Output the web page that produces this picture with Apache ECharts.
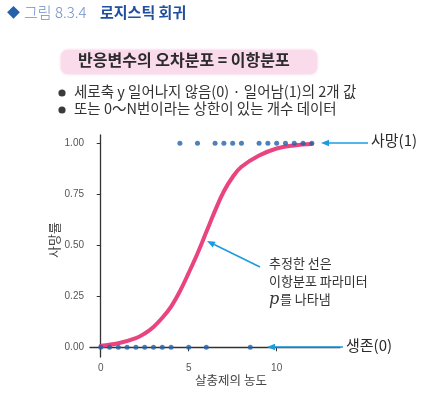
<!DOCTYPE html>
<html><head><meta charset="utf-8">
<script src="https://cdn.jsdelivr.net/npm/echarts@6/dist/echarts.min.js"></script>
<style>html,body{margin:0;padding:0;background:#fff}#c{width:434px;height:393px}</style>
</head><body><div id="c"></div>
<script>
// Data
const deadX = [4.5, 5.5, 6.5, 7, 7.5, 8, 9, 9.5, 10, 10.5, 11, 11.5, 12];   // y = 1
const aliveX = [0, 0.5, 1, 1.5, 2, 2.5, 3, 3.5, 4, 5, 6, 8.5];             // y = 0
const curveX = [0, 1, 2, 2.5, 3, 3.5, 4, 4.5, 5, 5.5, 6, 6.5, 7, 7.5, 8, 9, 10, 11, 12];
const curveY = [0.008, 0.02, 0.045, 0.068, 0.10, 0.145, 0.20, 0.275, 0.365, 0.46, 0.565, 0.67, 0.765, 0.835, 0.885, 0.94, 0.975, 0.99, 0.997];
const xTicks = [0, 5, 10];
const yTicks = [0, 0.25, 0.5, 0.75, 1];

const KR = '"Noto Sans CJK KR", "Noto Sans", sans-serif';
const blue = '#1b9ce0';
const dotColor = '#2260a8';
const pink = '#e9447f';

const chart = echarts.init(document.getElementById('c'), null, {renderer: 'canvas'});

function arrow(x1, y1, x2, y2) {
  const ang = Math.atan2(y2 - y1, x2 - x1);
  const L = 8, W = 3.2;
  const bx = x2 - L * Math.cos(ang), by = y2 - L * Math.sin(ang);
  const px = -Math.sin(ang) * W, py = Math.cos(ang) * W;
  return [
    {type: 'line', shape: {x1: x1, y1: y1, x2: bx, y2: by}, style: {stroke: blue, lineWidth: 1.6}, z: 10},
    {type: 'polygon', shape: {points: [[x2, y2], [bx + px, by + py], [bx - px, by - py]]}, style: {fill: blue}, z: 10}
  ];
}

const graphics = [
  {type: 'text', left: 7, top: 6, style: {text: '◆', font: '13px ' + KR, fill: '#2462ad'}},
  {type: 'text', left: 24, top: 5, style: {text: '그림 8.3.4', font: '300 15px ' + KR, fill: '#6b8ec6'}},
  {type: 'text', left: 100, top: 5, style: {text: '로지스틱 회귀', font: 'bold 15px ' + KR, fill: '#1f4f9e'}},
  {type: 'rect', shape: {x: 61, y: 50, width: 256, height: 24, r: 7}, style: {fill: '#f9dbeb', shadowBlur: 3, shadowColor: 'rgba(240,180,210,0.8)'}},
  {type: 'text', left: 78, top: 52, style: {text: '반응변수의 오차분포 = 이항분포', font: 'bold 16px ' + KR, fill: '#2b2b2b'}},
  {type: 'circle', shape: {cx: 62, cy: 93, r: 3.6}, style: {fill: '#3a3a3a'}},
  {type: 'circle', shape: {cx: 62, cy: 110, r: 3.6}, style: {fill: '#3a3a3a'}},
  {type: 'text', left: 74, top: 84, style: {text: '세로축 y 일어나지 않음(0) · 일어남(1)의 2개 값', font: '14.5px ' + KR, fill: '#333'}},
  {type: 'text', left: 74, top: 101, style: {text: '또는 0〜N번이라는 상한이 있는 개수 데이터', font: '14.5px ' + KR, fill: '#333'}},
  {type: 'text', left: 371, top: 133, style: {text: '사망(1)', font: '15px ' + KR, fill: '#2b2b2b'}},
  {type: 'text', left: 346, top: 338, style: {text: '생존(0)', font: '15px ' + KR, fill: '#2b2b2b'}},
  {type: 'text', left: 269, top: 257, style: {text: '추정한 선은', font: '13px ' + KR, fill: '#333'}},
  {type: 'text', left: 269, top: 275, style: {text: '이항분포 파라미터', font: '13px ' + KR, fill: '#333'}},
  {type: 'text', left: 269, top: 292, style: {text: 'p', font: 'italic 16px "DejaVu Serif", "Liberation Serif", serif', fill: '#333'}},
  {type: 'text', left: 280, top: 293, style: {text: '를 나타냄', font: '13px ' + KR, fill: '#333'}},
  {type: 'text', x: 54, y: 240, rotation: Math.PI / 2, style: {text: '사망률', font: '13px ' + KR, fill: '#444', align: 'center', verticalAlign: 'middle'}},
  {type: 'text', x: 231, y: 380, style: {text: '살충제의 농도', font: '12.5px ' + KR, fill: '#444', align: 'center', verticalAlign: 'middle'}}
].concat(arrow(368, 143, 321, 143), arrow(343, 347, 267, 347), arrow(260, 267, 207, 241));

chart.setOption({
  animation: false,
  backgroundColor: '#fff',
  grid: {left: 90, top: 135, width: 250, height: 222, containLabel: false},
  xAxis: {
    type: 'value', min: -0.61, max: 13.6,
    splitLine: {show: false},
    axisLine: {show: true, lineStyle: {color: '#333', width: 1.3}},
    axisTick: {show: true, length: 4, customValues: xTicks, lineStyle: {color: '#333'}},
    axisLabel: {customValues: xTicks, margin: 6, fontSize: 10, color: '#555', fontFamily: 'Liberation Sans, sans-serif'}
  },
  yAxis: {
    type: 'value', min: -0.0475, max: 1.041,
    splitLine: {show: false},
    axisLine: {show: true, lineStyle: {color: '#333', width: 1.3}},
    axisTick: {show: true, length: 4, customValues: yTicks, lineStyle: {color: '#333'}},
    axisLabel: {customValues: yTicks, margin: 6, fontSize: 10, color: '#555', fontFamily: 'Liberation Sans, sans-serif',
      formatter: v => v.toFixed(2)}
  },
  series: [
    {type: 'line', smooth: 0.4, symbol: 'none', z: 2,
     data: curveX.map((x, i) => [x, curveY[i]]),
     lineStyle: {color: pink, width: 4, cap: 'round'}},
    {type: 'scatter', symbolSize: 5, z: 5, itemStyle: {color: dotColor},
     data: deadX.map(x => [x, 1])},
    {type: 'scatter', symbolSize: 5, z: 5, itemStyle: {color: dotColor},
     data: aliveX.map(x => [x, 0])}
  ],
  graphic: graphics
});
</script>
</body></html>
